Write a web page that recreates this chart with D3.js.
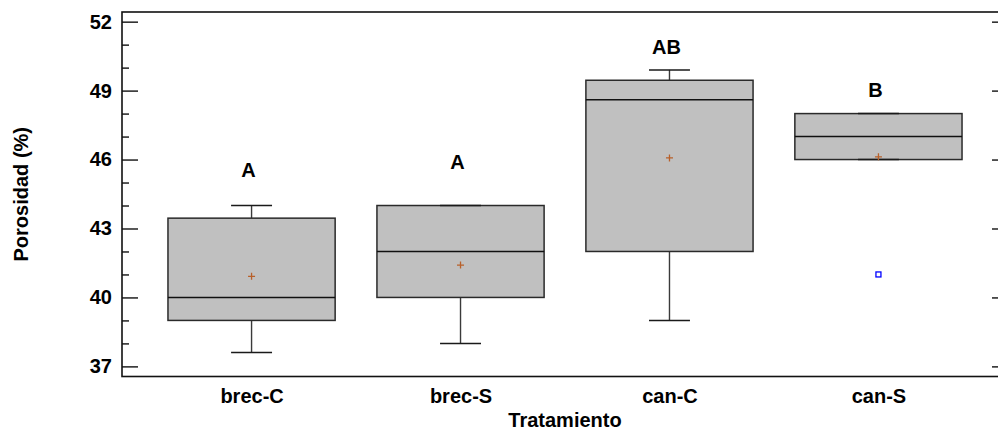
<!DOCTYPE html>
<html><head><meta charset="utf-8">
<script src="https://cdn.jsdelivr.net/npm/d3@7"></script>
<style>
html,body{margin:0;padding:0;background:#fff;}
text{font-family:"Liberation Sans",Arial,sans-serif;font-weight:bold;}
</style></head>
<body><svg id="chart" width="998" height="430"></svg>
<script>
const categories = ["brec-C", "brec-S", "can-C", "can-S"];
const whiskerLow = [37.6, 38.0, 39.0, 46.0];
const q1 = [39.0, 40.0, 42.0, 46.0];
const median = [40.0, 42.0, 48.6, 47.0];
const q3 = [43.45, 44.0, 49.45, 48.0];
const whiskerHigh = [44.0, 44.0, 49.9, 48.0];
const means = [40.92, 41.41, 46.07, 46.12];
const outlierCats = ["can-S"];
const outlierValues = [41.0];
const groupLetters = ["A", "A", "AB", "B"];
const letterValues = [45.25, 45.57, 50.6, 48.73];
const yMajorTicks = [37, 40, 43, 46, 49, 52];
const yMinorTicks = [38, 39, 41, 42, 44, 45, 47, 48, 50, 51];
const xTitle = "Tratamiento";
const yTitle = "Porosidad (%)";

(function() {
const svg = d3.select("#chart");
const pL = 122, pR = 1008, pT = 12, pB = 376.5;
const fs = 20;

const x = d3.scalePoint().domain(categories).range([pL, pR]).padding(0.62);
const step = x.step();
const y = d3.scaleLinear().domain([36.56, 52.42]).range([pB, pT]);

const boxes = categories.map((c, i) => ({c, lo: whiskerLow[i], q1: q1[i], med: median[i], q3: q3[i], hi: whiskerHigh[i], mean: means[i]}));
const boxHalf = 0.4 * step, capHalf = 0.098 * step;

const g = svg.append("g");
// whiskers
g.selectAll(".wh").data(boxes).join("g").each(function(d) {
  const s = d3.select(this);
  const cx = x(d.c);
  s.append("line").attr("x1", cx).attr("x2", cx).attr("y1", y(d.q3)).attr("y2", y(d.hi)).attr("stroke", "#3a3a3a").attr("stroke-width", 1.4);
  s.append("line").attr("x1", cx).attr("x2", cx).attr("y1", y(d.q1)).attr("y2", y(d.lo)).attr("stroke", "#3a3a3a").attr("stroke-width", 1.4);
});
// boxes
g.selectAll(".box").data(boxes).join("rect")
  .attr("x", d => x(d.c) - boxHalf).attr("width", 2 * boxHalf)
  .attr("y", d => y(d.q3)).attr("height", d => y(d.q1) - y(d.q3))
  .attr("fill", "#c0c0c0").attr("stroke", "#2a2a2a").attr("stroke-width", 1.5);
// caps
g.selectAll(".caps").data(boxes).join("g").each(function(d) {
  const s = d3.select(this);
  const cx = x(d.c);
  [d.hi, d.lo].forEach(v => s.append("line").attr("x1", cx - capHalf).attr("x2", cx + capHalf).attr("y1", y(v)).attr("y2", y(v)).attr("stroke", "#1a1a1a").attr("stroke-width", 1.5));
});
// medians
g.selectAll(".med").data(boxes).join("line")
  .attr("x1", d => x(d.c) - boxHalf).attr("x2", d => x(d.c) + boxHalf)
  .attr("y1", d => y(d.med)).attr("y2", d => y(d.med))
  .attr("stroke", "#111").attr("stroke-width", 1.6);
// means
g.selectAll(".mean").data(boxes).join("path")
  .attr("d", d => { const cx = x(d.c), cy = y(d.mean); return `M${cx-3.5},${cy}H${cx+3.5}M${cx},${cy-3.5}V${cy+3.5}`; })
  .attr("stroke", "#b8602a").attr("stroke-width", 1.3).attr("fill", "none");
// outliers
g.selectAll(".out").data(outlierCats.map((c, i) => ({c, v: outlierValues[i]}))).join("rect")
  .attr("x", d => x(d.c) - 2.5).attr("y", d => y(d.v) - 2.5).attr("width", 5).attr("height", 5)
  .attr("fill", "#fff").attr("stroke", "#0000ff").attr("stroke-width", 1.3);
// letters
g.selectAll(".let").data(categories.map((c, i) => ({c, t: groupLetters[i], v: letterValues[i]}))).join("text")
  .attr("x", d => x(d.c) - 3).attr("y", d => y(d.v)).attr("text-anchor", "middle")
  .attr("font-size", fs).attr("fill", "#000").text(d => d.t);

// axes
const yl = svg.append("g").attr("transform", `translate(${pL},0)`)
  .call(d3.axisLeft(y).tickValues(yMajorTicks).tickSize(-16).tickPadding(10).tickFormat(d3.format("d")));
yl.selectAll("text").attr("font-size", fs).attr("fill", "#000").style("font-family", '"Liberation Sans",Arial,sans-serif').style("font-weight", "bold");
const ym = svg.append("g").attr("transform", `translate(${pL},0)`)
  .call(d3.axisLeft(y).tickValues(yMinorTicks).tickSize(-7).tickFormat(""));
const yr = svg.append("g").attr("transform", `translate(${pR},0)`)
  .call(d3.axisRight(y).tickValues(yMajorTicks).tickSize(-16).tickFormat(""));
const yrm = svg.append("g").attr("transform", `translate(${pR},0)`)
  .call(d3.axisRight(y).tickValues(yMinorTicks).tickSize(-7).tickFormat(""));
[yl, ym, yr, yrm].forEach(a => { a.select(".domain").remove(); a.selectAll("line").attr("stroke", "#111").attr("stroke-width", 1.4); });

const xa = svg.append("g").attr("transform", `translate(0,${pB})`)
  .call(d3.axisBottom(x).tickSize(0).tickPadding(12));
xa.select(".domain").remove();
xa.selectAll("text").attr("font-size", fs).attr("fill", "#000").style("font-family", '"Liberation Sans",Arial,sans-serif').style("font-weight", "bold");

// frame
svg.append("rect").attr("x", pL).attr("y", pT).attr("width", pR - pL).attr("height", pB - pT)
  .attr("fill", "none").attr("stroke", "#111").attr("stroke-width", 1.6);

// titles
svg.append("text").attr("x", (pL + pR) / 2).attr("y", 426.5).attr("text-anchor", "middle")
  .attr("font-size", fs).attr("fill", "#000").text(xTitle);
svg.append("text").attr("transform", `translate(28,${(pT + pB) / 2}) rotate(-90)`).attr("text-anchor", "middle")
  .attr("font-size", fs).attr("fill", "#000").text(yTitle);
})();
</script></body></html>
